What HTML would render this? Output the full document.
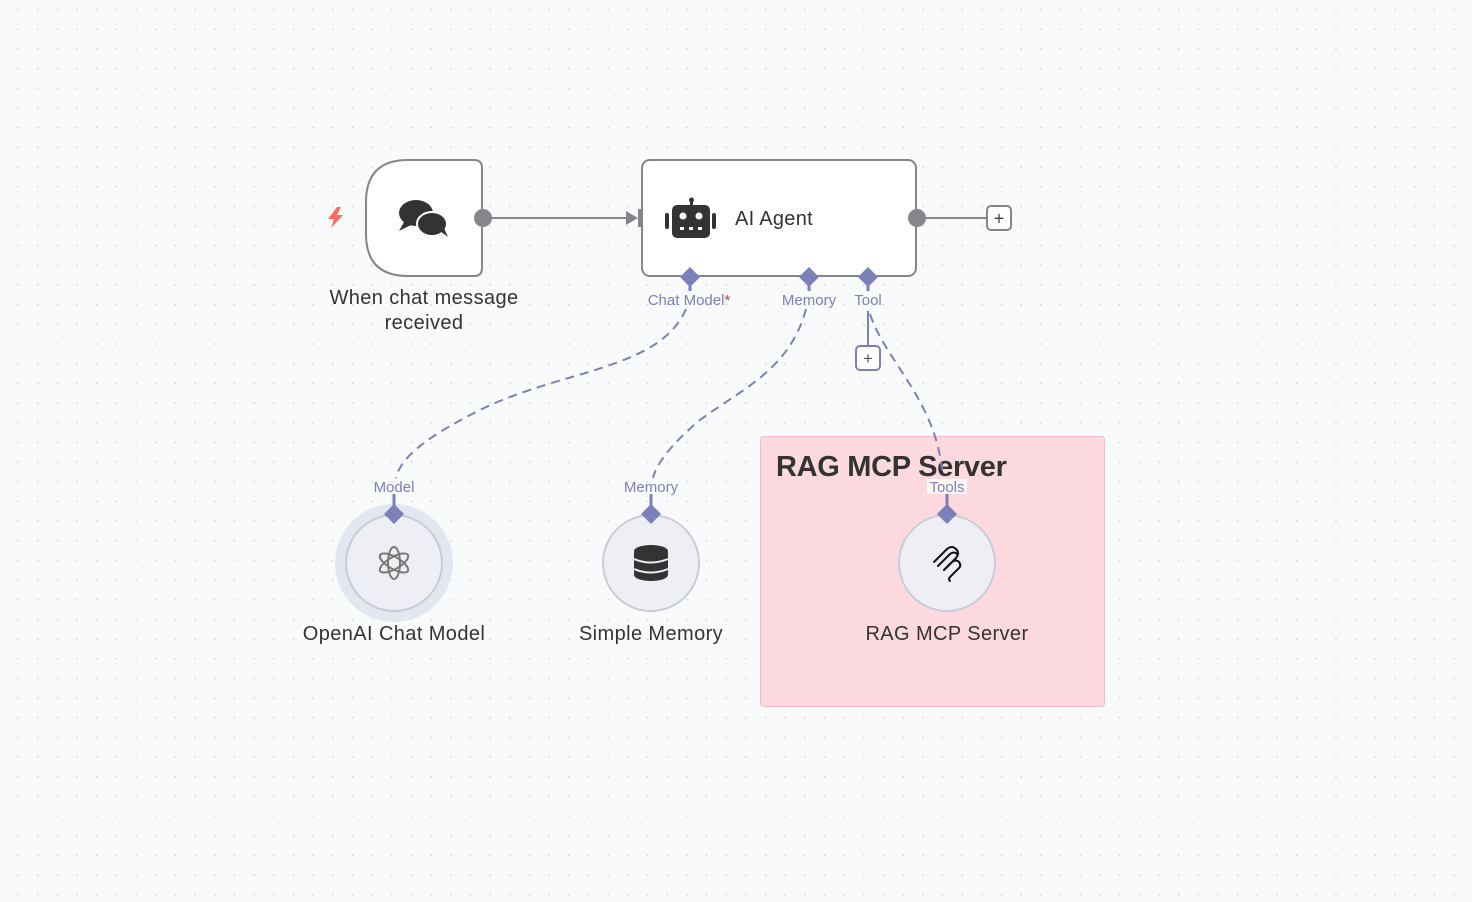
<!DOCTYPE html>
<html><head><style>
html,body{margin:0;padding:0;width:1472px;height:902px;overflow:hidden;background:#f9fafc;}
svg{display:block;font-family:"Liberation Sans",sans-serif;}
</style></head><body>
<svg width="1472" height="902" viewBox="0 0 1472 902" xmlns="http://www.w3.org/2000/svg">
<defs>
<pattern id="g" x="17" y="8.5" width="19.67" height="19.67" patternUnits="userSpaceOnUse">
<rect x="0.4" y="0.4" width="1.4" height="1.4" fill="#c9ccd3"/>
</pattern>
</defs>
<rect width="1472" height="902" fill="#f9fafc"/>
<rect width="1472" height="902" fill="url(#g)"/>

<rect x="760.5" y="436.5" width="344" height="270" rx="3" fill="#fcd9de" stroke="#f6bcc4"/>
<text x="776" y="476" font-size="29" fill="#333" font-weight="bold" letter-spacing="-0.3">RAG MCP Server</text>

<path d="M408 160 H474 Q482 160 482 168 V268 Q482 276 474 276 H408 Q366 276 366 234 V202 Q366 160 408 160 Z" fill="#fff" stroke="#85868a" stroke-width="2"/>
<path d="M337 207 L328 219 L334 219 L331 228 L343 215 L337 215 L341 207 Z" fill="#ff6d5a"/>
<ellipse cx="416" cy="213" rx="17" ry="13" fill="#333"/>
<path d="M404 222 L399 231 L411 225 Z" fill="#333"/>
<ellipse cx="432" cy="224" rx="15" ry="12" fill="#333" stroke="#fff" stroke-width="2"/>
<path d="M440 231 L448 237 L444 228 Z" fill="#333"/>
<g font-size="20" fill="#333" text-anchor="middle" letter-spacing="0.4">
<text x="424" y="304">When chat message</text>
<text x="424" y="329">received</text>
</g>

<line x1="483" y1="218" x2="630" y2="218" stroke="#85868a" stroke-width="2"/>
<path d="M626 211 L638 218 L626 225 Z" fill="#85868a"/>
<rect x="638" y="209" width="8" height="18" fill="#85868a"/>
<circle cx="483" cy="218" r="9" fill="#85868a"/>

<rect x="642" y="160" width="274" height="116" rx="8" fill="#fff" stroke="#85868a" stroke-width="2"/>
<circle cx="917" cy="218" r="9" fill="#85868a"/>
<line x1="926" y1="218" x2="987" y2="218" stroke="#85868a" stroke-width="2"/>
<rect x="987" y="206" width="24" height="24" rx="4" fill="#fff" stroke="#85868a" stroke-width="2"/>
<text x="999" y="224.5" font-size="18" fill="#444" text-anchor="middle">+</text>
<rect x="690" y="198" width="3" height="8" fill="#333"/>
<circle cx="691.5" cy="200" r="2.5" fill="#333"/>
<rect x="672" y="205" width="38" height="33" rx="5" fill="#333"/>
<rect x="665" y="213" width="4" height="16" rx="2" fill="#333"/>
<rect x="712" y="213" width="4" height="16" rx="2" fill="#333"/>
<circle cx="683" cy="216" r="3.5" fill="#fff"/>
<circle cx="699" cy="216" r="3.5" fill="#fff"/>
<rect x="680" y="227" width="4" height="3" fill="#fff"/>
<rect x="689" y="227" width="4" height="3" fill="#fff"/>
<rect x="698" y="227" width="4" height="3" fill="#fff"/>
<text x="735" y="225" font-size="20" fill="#333" letter-spacing="0.3">AI Agent</text>

<g fill="#7b80b8">
<path d="M690 267 L700 277 L690 287 L680 277 Z"/>
<path d="M809 267 L819 277 L809 287 L799 277 Z"/>
<path d="M868 267 L878 277 L868 287 L858 277 Z"/>
<rect x="688.5" y="285" width="3" height="6"/>
<rect x="807.5" y="285" width="3" height="6"/>
<rect x="866.5" y="285" width="3" height="6"/>
</g>
<g font-size="15" fill="#7b80b8" text-anchor="middle">
<text x="689" y="305">Chat Model<tspan fill="#f0324a">*</tspan></text>
<text x="809" y="305">Memory</text>
<text x="868" y="305">Tool</text>
</g>
<line x1="868" y1="311" x2="868" y2="346" stroke="#7b80b8" stroke-width="2"/>
<rect x="856" y="346" width="24" height="24" rx="4" fill="#fff" stroke="#7b80b8" stroke-width="2"/>
<text x="868" y="364" font-size="17" fill="#555" text-anchor="middle">+</text>

<g fill="none" stroke="#7b80b8" stroke-width="2" stroke-dasharray="9,6">
<path d="M686 309 C660 370, 560 370, 480 410 C420 440, 400 460, 396 478"/>
<path d="M806 309 C790 370, 740 390, 700 420 C670 445, 656 465, 653 478"/>
<path d="M870 314 C885 360, 935 400, 942 470"/>
</g>

<circle cx="394" cy="563" r="59" fill="#e3e7f0"/>
<circle cx="394" cy="563" r="48" fill="#eeeff4" stroke="#c8ccd6" stroke-width="2"/>
<circle cx="651" cy="563" r="48" fill="#eeeff4" stroke="#c8ccd6" stroke-width="2"/>
<circle cx="947" cy="563" r="48" fill="#eeeff4" stroke="#c8ccd6" stroke-width="2"/>

<g fill="none" stroke="#777" stroke-width="2">
<ellipse cx="394" cy="563" rx="6" ry="16"/>
<ellipse cx="394" cy="563" rx="6" ry="16" transform="rotate(60 394 563)"/>
<ellipse cx="394" cy="563" rx="6" ry="16" transform="rotate(-60 394 563)"/>
</g>
<g fill="#333">
<ellipse cx="651" cy="551" rx="17" ry="6"/>
<rect x="634" y="551" width="34" height="24" rx="2"/>
<ellipse cx="651" cy="575" rx="17" ry="6"/>
</g>
<g stroke="#eeeff4" stroke-width="2" fill="none">
<path d="M634 559 Q651 566 668 559"/>
<path d="M634 569 Q651 576 668 569"/>
</g>
<g fill="none" stroke="#111" stroke-width="2" stroke-linecap="round">
<path d="M934 562 L947 549 Q952 545 956 549 Q960 553 956 558 L944 570"/>
<path d="M938 566 L950 554 Q954 551 957 554"/>
<path d="M944 570 L952 562 Q956 559 959 562 Q962 566 958 569 L950 577 Q948 579 950 581"/>
</g>

<g fill="#7b80b8">
<path d="M394 504 L404 514 L394 524 L384 514 Z"/>
<path d="M651 504 L661 514 L651 524 L641 514 Z"/>
<path d="M947 504 L957 514 L947 524 L937 514 Z"/>
<rect x="392.5" y="494" width="3" height="12"/>
<rect x="649.5" y="494" width="3" height="12"/>
<rect x="945.5" y="494" width="3" height="12"/>
</g>
<rect x="927" y="479" width="40" height="15" fill="#fff" opacity="0.8"/>
<g font-size="15" fill="#7b80b8" text-anchor="middle">
<text x="394" y="492">Model</text>
<text x="651" y="492">Memory</text>
<text x="947" y="492">Tools</text>
</g>
<g font-size="20" fill="#333" text-anchor="middle" letter-spacing="0.4">
<text x="394" y="640">OpenAI Chat Model</text>
<text x="651" y="640">Simple Memory</text>
<text x="947" y="640">RAG MCP Server</text>
</g>
</svg>
</body></html>
